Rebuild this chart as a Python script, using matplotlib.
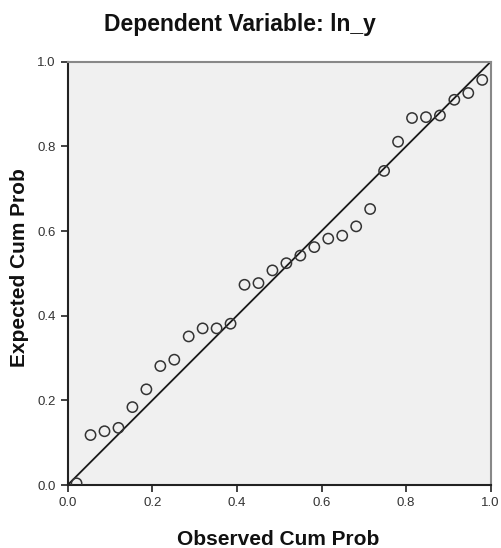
import matplotlib
matplotlib.use("Agg")
import matplotlib.pyplot as plt

plt.rcParams['font.family'] = ['Liberation Sans', 'DejaVu Sans']

# observed cumulative probabilities (30 residuals)
observed = [0.021, 0.054, 0.087, 0.120, 0.153, 0.186, 0.219, 0.252, 0.286, 0.319,
            0.352, 0.385, 0.418, 0.451, 0.484, 0.517, 0.550, 0.583, 0.616, 0.649,
            0.682, 0.715, 0.748, 0.781, 0.814, 0.847, 0.880, 0.914, 0.947, 0.980]
# expected cumulative probabilities
expected = [0.004, 0.118, 0.127, 0.135, 0.184, 0.226, 0.281, 0.296, 0.351, 0.370,
            0.370, 0.381, 0.473, 0.477, 0.507, 0.524, 0.542, 0.562, 0.582, 0.589,
            0.611, 0.652, 0.742, 0.811, 0.867, 0.869, 0.873, 0.910, 0.926, 0.957]
ticks = [0.0, 0.2, 0.4, 0.6, 0.8, 1.0]
tick_labels = ['0.0', '0.2', '0.4', '0.6', '0.8', '1.0']

W, H = 501, 548
fig = plt.figure(figsize=(W / 100, H / 100), dpi=100)
ax = fig.add_axes([67.7 / W, 1 - 485 / H, 423 / W, 423.3 / H])
ax.set_facecolor('#f0f0f0')

ax.plot([0, 1], [0, 1], color='#1a1a1a', lw=1.3, zorder=2)
ax.scatter(observed, expected, s=55, facecolors='none', edgecolors='#333333',
           linewidths=1.1, zorder=3)

ax.set_xlim(0, 1)
ax.set_ylim(0, 1)
ax.set_xticks(ticks)
ax.set_xticklabels(tick_labels)
ax.set_yticks(ticks)
ax.set_yticklabels(tick_labels)
ax.tick_params(direction='out', length=5, width=1.3, color='#333333',
               labelsize=9.5, labelcolor='#333333')
ax.tick_params(axis='x', pad=4)
ax.tick_params(axis='y', pad=3.5)

for side in ['left', 'bottom']:
    ax.spines[side].set_color('#222222')
    ax.spines[side].set_linewidth(1.5)
for side in ['top', 'right']:
    ax.spines[side].set_color('#888888')
    ax.spines[side].set_linewidth(1.5)

fig.text(240 / W, 1 - 31.5 / H, 'Dependent Variable: ln_y', ha='center', va='baseline',
         fontsize=16.5, fontweight='bold', color='#111111')
fig.text(278 / W, 1 - 545 / H, 'Observed Cum Prob', ha='center', va='baseline',
         fontsize=15, fontweight='bold', color='#111111')
fig.text(25 / W, 1 - 268 / H, 'Expected Cum Prob', ha='center', va='baseline',
         rotation=90, rotation_mode='anchor', fontsize=15, fontweight='bold',
         color='#111111')

fig.savefig('out.png', dpi=100)
